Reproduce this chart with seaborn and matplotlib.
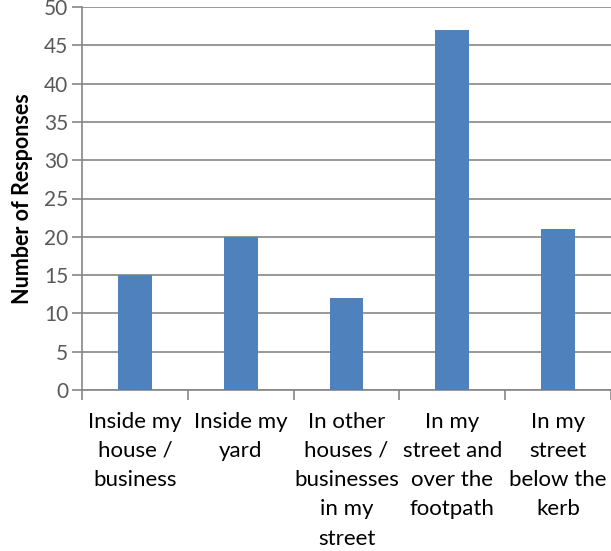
import matplotlib
matplotlib.use("Agg")
import matplotlib.pyplot as plt
import seaborn as sns
import pandas as pd
from matplotlib.ticker import MultipleLocator, FixedLocator

categories = ["Inside my\nhouse /\nbusiness", "Inside my\nyard",
              "In other\nhouses /\nbusinesses\nin my\nstreet",
              "In my\nstreet and\nover the\nfootpath",
              "In my\nstreet\nbelow the\nkerb"]
values = [15, 20, 12, 47, 21]
y_label = "Number of Responses"

sns.set_style("white")
plt.rcParams['font.family'] = ['Lato', 'DejaVu Sans']

df = pd.DataFrame({"cat": categories, "val": values})

fig = plt.figure(figsize=(6.11, 5.51), dpi=100)
ax = fig.add_axes([82/611, 1-390/551, 1-82/611, (390-7)/551])

sns.barplot(data=df, x="cat", y="val", color="#4F81BD", saturation=1,
            width=0.32, ax=ax, zorder=3, linewidth=0)

ax.set_ylim(0, 50)
ax.set_xlim(-0.5, len(categories) - 0.5)
ax.yaxis.set_major_locator(MultipleLocator(5))
ax.grid(axis="y", color="#868686", linewidth=1.2, zorder=0)
ax.set_axisbelow(True)

for s in ["top", "right"]:
    ax.spines[s].set_visible(False)
for s in ["left", "bottom"]:
    ax.spines[s].set_color("#868686")
    ax.spines[s].set_linewidth(1.2)

ax.tick_params(axis="y", which="major", left=True, length=7, width=1.2,
               color="#868686", labelsize=15, labelcolor="#595959", pad=3)
ax.tick_params(axis="x", which="major", bottom=False, labelsize=16,
               labelcolor="#000000", pad=12)
ax.xaxis.set_minor_locator(FixedLocator([i - 0.5 for i in range(len(categories) + 1)]))
ax.tick_params(axis="x", which="minor", bottom=True, length=7, width=1.2,
               color="#868686", direction="out")
for lab in ax.get_xticklabels():
    lab.set_linespacing(1.58)
    lab.set_ha("center")

ax.set_xlabel("")
ax.set_ylabel(y_label, fontsize=15.5, fontweight="bold", color="#000000", labelpad=8)

fig.savefig("out.png", dpi=100)
